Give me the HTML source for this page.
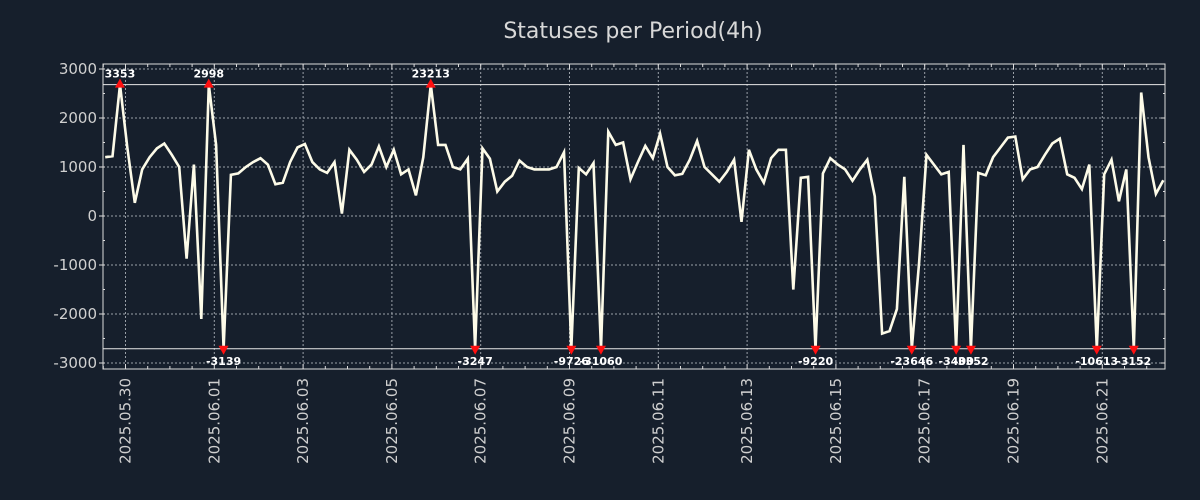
<!DOCTYPE html>
<html><head><meta charset="utf-8"><style>
html,body{margin:0;padding:0;background:#161f2c;}
svg{display:block;}
text{font-family:"DejaVu Sans","Liberation Sans",sans-serif;}
</style></head><body>
<svg id="chart" width="1200" height="500" viewBox="0 0 1200 500" xmlns="http://www.w3.org/2000/svg">
<rect x="0" y="0" width="1200" height="500" fill="#161f2c"/>
<text x="633" y="38" text-anchor="middle" font-size="22" fill="#d8d8d8">Statuses per Period(4h)</text>
<g id="grid"></g><g id="axes"></g><g id="series"></g><g id="marks"></g>
</svg>
<script>
const values=[1200,1220,3353,1400,270,950,1200,1380,1480,1250,1000,-870,1050,-2100,2998,1450,-3139,840,870,1000,1100,1180,1050,650,680,1100,1400,1470,1100,950,880,1100,50,1350,1150,900,1050,1420,1000,1350,850,950,420,1200,23213,1450,1450,1000,950,1170,-3247,1380,1170,500,700,820,1130,1000,950,950,950,1000,1300,-9726,980,850,1080,-31060,1720,1450,1500,750,1100,1430,1180,1680,1000,830,860,1150,1530,1000,850,700,900,1150,-120,1350,950,680,1180,1350,1350,-1500,780,800,-9220,870,1180,1050,950,720,950,1150,400,-2400,-2350,-1900,800,-23646,-950,1250,1050,850,900,-3400,1450,-3352,880,830,1200,1400,1600,1620,750,950,1000,1250,1480,1580,850,780,550,1050,-10613,850,1150,300,950,-3152,2520,1200,450,730];
const yTicks=[3000,2000,1000,0,-1000,-2000,-3000];
const dateLabels=["2025.05.30","2025.06.01","2025.06.03","2025.06.05","2025.06.07","2025.06.09","2025.06.11","2025.06.13","2025.06.15","2025.06.17","2025.06.19","2025.06.21"];
const startHour=-11, stepHours=4, clipHi=2680, clipLo=-2710;
const L=103,R=1165,T=64,B=369;
const NS='http://www.w3.org/2000/svg';
function xs(h){return 125.5+h*(44.4/24);}
function ys(v){return 216-v*0.049;}
function mk(tag,attrs,parent){const e=document.createElementNS(NS,tag);for(const k in attrs)e.setAttribute(k,attrs[k]);parent.appendChild(e);return e;}
const grid=document.getElementById('grid'),axes=document.getElementById('axes'),series=document.getElementById('series'),marks=document.getElementById('marks');
yTicks.forEach(v=>{
 const y=ys(v);
 const g=mk('line',{x1:L,x2:R,y1:y,y2:y,stroke:'#9aa0a8','stroke-width':1,'stroke-dasharray':'2,2'},grid);
 
 
 const t=mk('text',{x:97,y:y+5,'text-anchor':'end','font-size':15,fill:'#d0d0d0'},axes);
 t.textContent=v;
 
 
 mk('line',{x1:L-4,x2:L,y1:y,y2:y,stroke:'#ddd'},axes);
 mk('line',{x1:R-4,x2:R,y1:y,y2:y,stroke:'#ddd'},axes);
});
for(let v=-3000;v<=3000;v+=500){const y=ys(v);mk('line',{x1:L,x2:L+2,y1:y,y2:y,stroke:'#ddd'},axes);mk('line',{x1:R-2,x2:R,y1:y,y2:y,stroke:'#ddd'},axes);}
dateLabels.forEach((d,i)=>{
 const x=xs(i*48);
 const g=mk('line',{x1:x,x2:x,y1:T,y2:B,stroke:'#9aa0a8','stroke-width':1,'stroke-dasharray':'2,2'},grid);
 
 
 const t=mk('text',{x:0,y:0,'text-anchor':'end','font-size':15,fill:'#d0d0d0',transform:`translate(${x+5},378) rotate(-90)`},axes);
 t.textContent=d;
 
 
});
for(let h=-12;h<=24*24;h+=12){const x=xs(h);if(x<L||x>R)continue;const len=(h%48===0)?5:3;mk('line',{x1:x,x2:x,y1:B-len,y2:B,stroke:'#ddd'},axes);mk('line',{x1:x,x2:x,y1:T,y2:T+len,stroke:'#ddd'},axes);}
const fr=mk('rect',{x:L,y:T,width:R-L,height:B-T,fill:'none',stroke:'#dcdcdc','stroke-width':1},axes);


[clipHi,clipLo].forEach(v=>{const l=mk('line',{x1:L,x2:R,y1:ys(v),y2:ys(v),stroke:'#e8e8e8','stroke-width':1},axes);
 
 });
let pts=values.map((v,i)=>[xs(startHour+i*stepHours),ys(Math.max(clipLo,Math.min(clipHi,v)))]);
const pl=mk('polyline',{points:pts.map(p=>p[0].toFixed(1)+','+p[1].toFixed(1)).join(' '),fill:'none',stroke:'#fdfbe8','stroke-width':2.6,'stroke-linejoin':'miter'},series);


values.forEach((v,i)=>{
 if(v<=clipHi&&v>=clipLo)return;
 const x=pts[i][0],y=pts[i][1],up=v>clipHi;
 const tri=mk('polygon',{points:up?`${x-5},${y+3} ${x+5},${y+3} ${x},${y-6}`:`${x-5},${y-3} ${x+5},${y-3} ${x},${y+6}`,fill:'#ff1010'},marks);
 
 
 const t=mk('text',{x:x,y:up?y-7:y+16,'text-anchor':'middle','font-size':11,'font-weight':'bold',fill:'#ffffff','font-family':'"DejaVu Sans Mono","Liberation Mono",monospace'},marks);
 t.textContent=v;
 
 
});
</script>
</body></html>
